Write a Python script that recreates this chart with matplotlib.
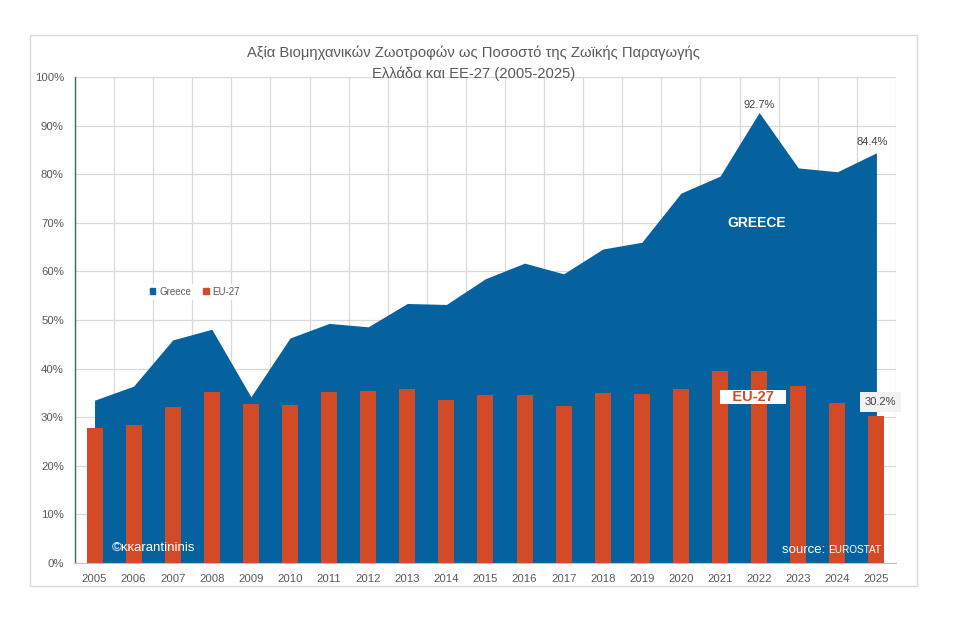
import matplotlib.pyplot as plt
import matplotlib.patches as mpatches
from matplotlib.ticker import FixedLocator, PercentFormatter

plt.rcParams['font.family'] = ['Liberation Sans', 'DejaVu Sans']

years = [str(y) for y in range(2005, 2026)]
greece = [33.5, 36.4, 45.9, 48.1, 34.2, 46.3, 49.3, 48.6, 53.4, 53.2, 58.5,
          61.7, 59.5, 64.6, 66.0, 76.1, 79.6, 92.7, 81.3, 80.5, 84.4]
eu27 = [27.8, 28.3, 32.2, 35.1, 32.7, 32.6, 35.1, 35.3, 35.8, 33.5, 34.6,
        34.6, 32.4, 35.0, 34.8, 35.9, 39.6, 39.5, 36.4, 33.0, 30.2]

blue = '#05629F'
red = '#D34A26'
grey = '#595959'

fig = plt.figure(figsize=(9.6, 6.2), dpi=100)
fig.patches.append(mpatches.Rectangle((0.0313, 0.0548), 0.924, 0.8887,
                                      transform=fig.transFigure, fill=False,
                                      edgecolor='#D9D9D9', linewidth=1))
ax = fig.add_axes([0.0781, 0.0919, 0.8552, 0.7839])

x = list(range(len(years)))
ax.fill_between(x, greece, color=blue, linewidth=0, zorder=2, label='Greece')
ax.bar(x, eu27, width=0.41, color=red, zorder=3, label='EU-27')

ax.set_xlim(-0.5, len(years) - 0.5)
ax.set_ylim(0, 100)
ax.set_xticks(x)
ax.set_xticklabels(years)
ax.xaxis.set_minor_locator(FixedLocator([i - 0.5 for i in range(len(years) + 1)]))
ax.set_yticks(range(0, 101, 10))
ax.yaxis.set_major_formatter(PercentFormatter(decimals=0))
ax.tick_params(axis='both', which='both', length=0, labelsize=8.2, labelcolor=grey)
ax.tick_params(axis='x', pad=8)
ax.tick_params(axis='y', pad=8)
ax.grid(axis='y', which='major', color='#D9D9D9', linewidth=0.9, zorder=0)
ax.grid(axis='x', which='minor', color='#D9D9D9', linewidth=0.9, zorder=0)
ax.set_axisbelow(True)
for s in ['top', 'right']:
    ax.spines[s].set_visible(False)
ax.spines['left'].set_color('#3B6E55')
ax.spines['left'].set_linewidth(1)
ax.spines['bottom'].set_color('#BFBFBF')

fig.text(0.493, 0.898, 'Αξία Βιομηχανικών Ζωοτροφών ως Ποσοστό της Ζωϊκής Παραγωγής\n'
         'Ελλάδα και ΕΕ-27 (2005-2025)', ha='center', va='center',
         fontsize=10.6, color=grey, linespacing=1.5)

# data labels
ax.annotate(f'{greece[17]:.1f}%', (17, greece[17]), xytext=(0, 2),
            textcoords='offset points', ha='center', va='bottom',
            fontsize=8, color='#404040')
ax.annotate(f'{greece[20]:.1f}%', (20, greece[20]), xytext=(-3, 4),
            textcoords='offset points', ha='center', va='bottom',
            fontsize=8, color='#404040')
ax.annotate(f'{eu27[20]:.1f}%', (20, eu27[20]), xytext=(3, 10),
            textcoords='offset points', ha='center', va='center',
            fontsize=8, color='#404040',
            bbox=dict(boxstyle='square,pad=0.45', facecolor='#F2F2F2', edgecolor='none'))

ax.text(16.95, 70, 'GREECE', ha='center', va='center', color='white',
        fontsize=10, fontweight='bold', zorder=5)
ax.text(16.85, 34.2, '   EU-27   ', ha='center', va='center', color=red,
        fontsize=10.5, fontweight='bold', zorder=5,
        bbox=dict(boxstyle='square,pad=0.0', facecolor='white', edgecolor='none'))

ax.text(0.045, 0.03, '©κκarantininis', transform=ax.transAxes, ha='left',
        va='center', color='white', fontsize=9.5, zorder=5)
ax.text(0.918, 0.027, 'source: ', transform=ax.transAxes, ha='right',
        va='center', color='white', fontsize=9.5, zorder=5)
ax.text(0.917, 0.027, 'EUROSTAT', transform=ax.transAxes, ha='left',
        va='center', color='white', fontsize=7.2, zorder=5)

handles = [mpatches.Patch(color=blue, label='Greece'),
           mpatches.Patch(color=red, label='EU-27')]
leg = ax.legend(handles=handles, loc='center', bbox_to_anchor=(0.146, 0.558),
                ncol=2, fontsize=7, frameon=True, handlelength=0.6,
                handleheight=0.6, handletextpad=0.4, columnspacing=1.2,
                borderpad=0.3, fancybox=False)
leg.get_frame().set_edgecolor('none')
leg.get_frame().set_facecolor('white')
leg.get_frame().set_alpha(1)
for t in leg.get_texts():
    t.set_color(grey)

fig.savefig('out.png', dpi=100, facecolor='white')
